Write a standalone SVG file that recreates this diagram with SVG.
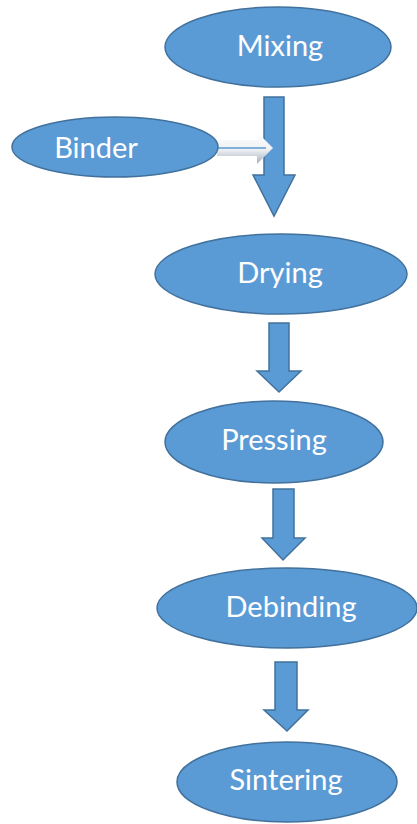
<svg xmlns="http://www.w3.org/2000/svg" width="417" height="824" viewBox="0 0 417 824">
  <defs>
    <style>
      .node { fill: #5b9bd5; stroke: #41719c; stroke-width: 1.5; }
      .label { fill: #ffffff; font-family: Lato, "Liberation Sans", sans-serif; font-size: 29px; text-anchor: middle; }
      .flow { fill: #5b9bd5; stroke: #41719c; stroke-width: 1.5; stroke-linejoin: miter; }
    </style>
    <linearGradient id="feedFill" x1="0" y1="0" x2="0" y2="1">
      <stop offset="0" stop-color="#ffffff"/>
      <stop offset="0.55" stop-color="#eef0f3"/>
      <stop offset="1" stop-color="#a3afbe"/>
    </linearGradient>
  </defs>
  <rect width="417" height="824" fill="#ffffff"/>

  <g id="connectors">
    <!-- process flow arrows -->
    <path class="flow" d="M264,97 H284 V175 H295 L274,216 L253,175 H264 Z"/>
    <path class="flow" d="M269,323 H289 V371 H301 L279,392 L257,371 H269 Z"/>
    <path class="flow" d="M273,489 H294 V538 H305 L283,560 L262,538 H273 Z"/>
    <path class="flow" d="M275,662 H297 V710 H308 L287,731 L264,710 H275 Z"/>
    <!-- binder feed arrow, laid over the first flow arrow -->
    <path d="M217,140 H257 V132 L273,148 L257,164 V156 H217 Z" fill="url(#feedFill)" stroke="none"/>
    <line x1="218" y1="148" x2="266" y2="148" stroke="#5b9bd5" stroke-width="1.5"/>
  </g>

  <g id="mixing">
    <ellipse class="node" cx="278" cy="47" rx="113" ry="40"/>
    <text class="label" x="280" y="56">Mixing</text>
  </g>
  <g id="binder">
    <ellipse class="node" cx="115" cy="147" rx="103" ry="30"/>
    <text class="label" x="96" y="158">Binder</text>
  </g>
  <g id="drying">
    <ellipse class="node" cx="281" cy="274" rx="126" ry="40"/>
    <text class="label" x="280" y="283">Drying</text>
  </g>
  <g id="pressing">
    <ellipse class="node" cx="274" cy="442" rx="109" ry="41"/>
    <text class="label" x="274" y="450">Pressing</text>
  </g>
  <g id="debinding">
    <ellipse class="node" cx="287" cy="608" rx="130" ry="40"/>
    <text class="label" x="291" y="617">Debinding</text>
  </g>
  <g id="sintering">
    <ellipse class="node" cx="287" cy="782" rx="110" ry="40"/>
    <text class="label" x="286" y="790">Sintering</text>
  </g>
</svg>
